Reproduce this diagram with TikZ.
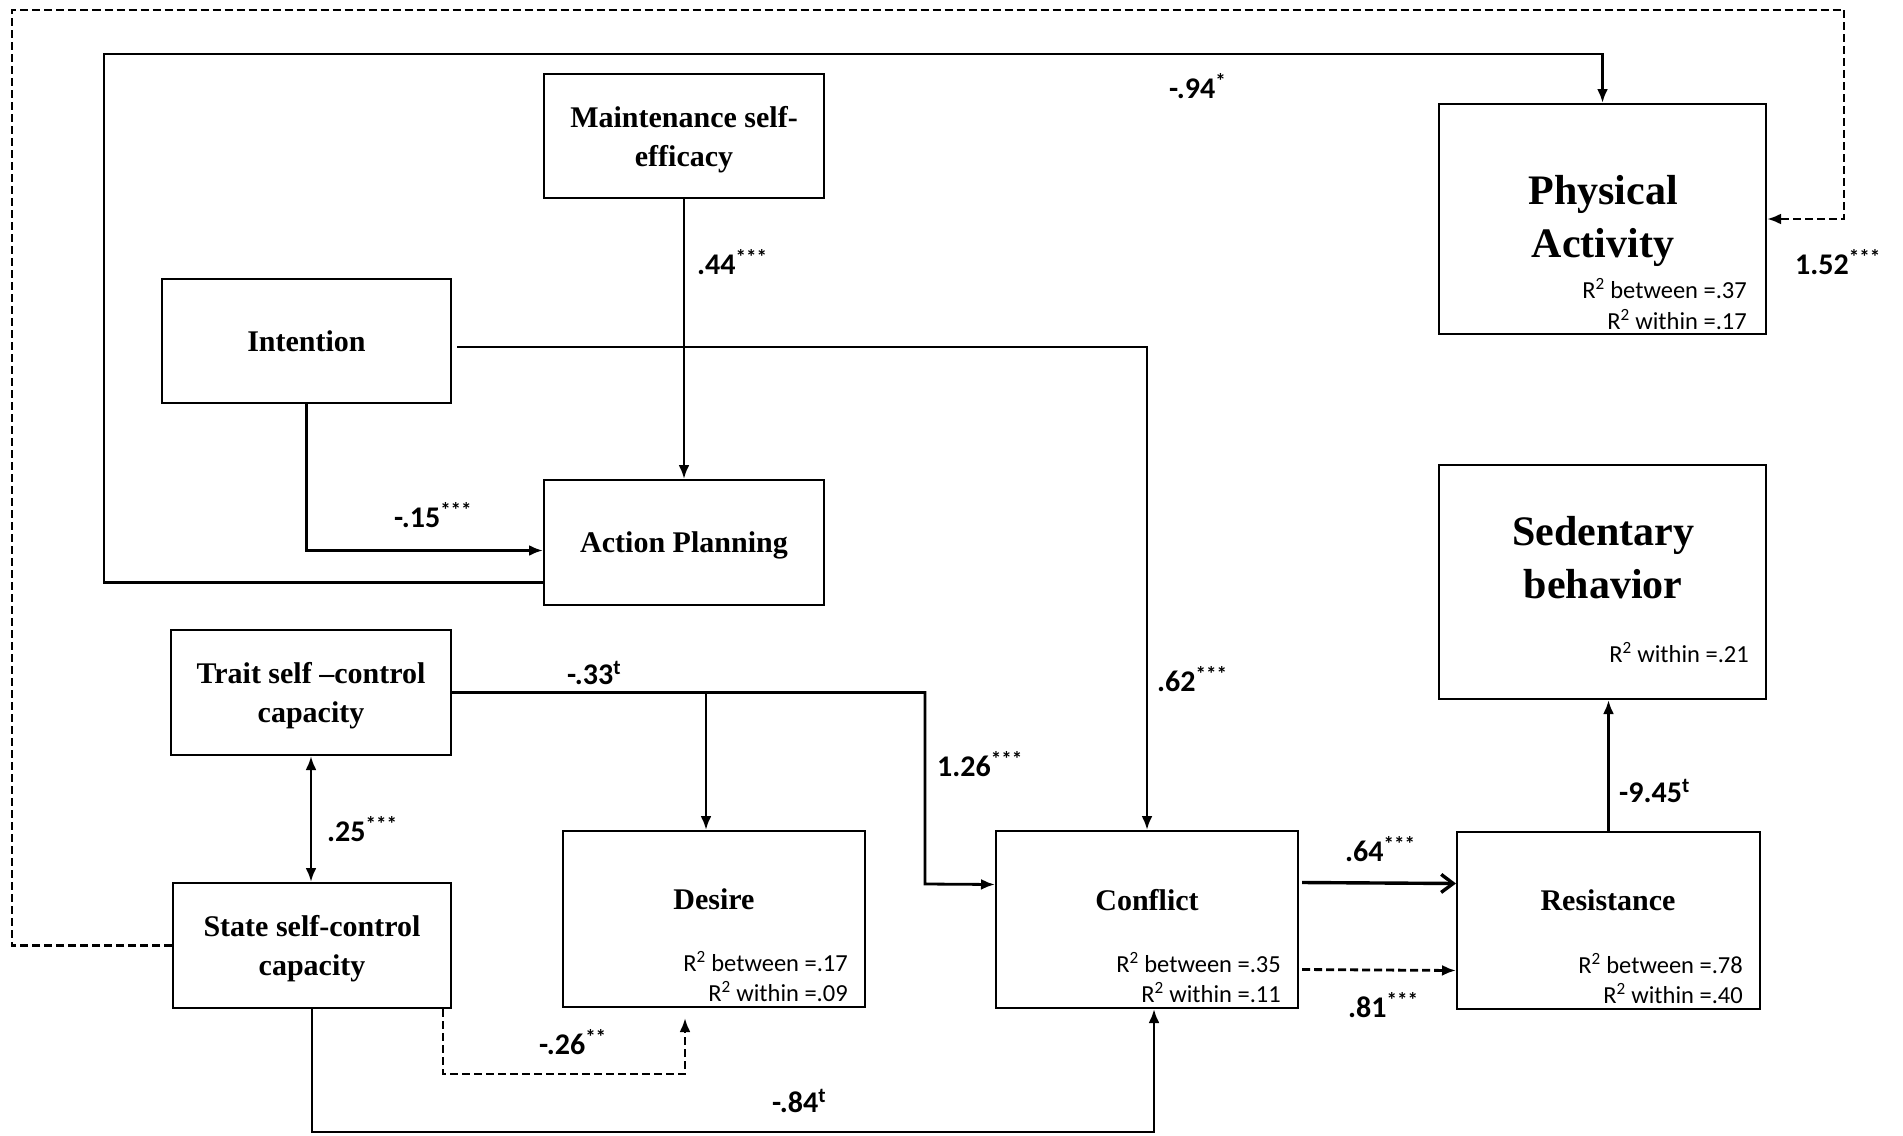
\documentclass[tikz,border=0pt]{standalone}
\usepackage{fontspec}
\setmainfont{Liberation Serif}
\newfontfamily\numfont{Carlito}
\usetikzlibrary{arrows.meta}

\begin{document}
\begin{tikzpicture}[x=1pt, y=-1pt,
  box/.style={draw, line width=2pt, inner sep=0pt},
  ttl/.style={font=\fontsize{30}{39}\selectfont\bfseries, align=center, text depth=0pt},
  bigttl/.style={font=\fontsize{42}{53}\selectfont\bfseries, align=center, inner sep=0pt},
  coef/.style={font=\numfont\fontsize{30}{36}\selectfont\bfseries, anchor=base west, inner sep=0pt},
  rsq/.style={font=\numfont\fontsize{24.5}{29}\selectfont, anchor=east, inner sep=0pt},
  conn/.style={line width=2.8pt, -{Latex[length=14pt,width=11pt]}},
  dconn/.style={conn, dash pattern=on 8pt off 4pt},
  ]
  \path[use as bounding box, fill=white] (0,0) rectangle (1903,1135);

  %% ── Boxes ──────────────────────────────────────────────────
  \node[box, ttl, minimum width=280pt, minimum height=124pt] (mse) at (684,136) {Maintenance self-\\efficacy};
  \node[box, ttl, minimum width=289pt, minimum height=124pt] (int) at (306.5,341) {Intention};
  \node[box, ttl, minimum width=280pt, minimum height=125pt] (ap)  at (684,542.5) {Action Planning};
  \node[box, ttl, minimum width=280pt, minimum height=125pt] (tsc) at (311,692.5) {Trait self –control\\capacity};
  \node[box, ttl, minimum width=278pt, minimum height=125pt] (ssc) at (312,945.5) {State self-control\\capacity};

  \node[box, minimum width=327pt, minimum height=230pt] (pa)  at (1602.5,219) {};
  \node[box, minimum width=327pt, minimum height=234pt] (sb)  at (1602.5,582) {};
  \node[box, minimum width=302pt, minimum height=176pt] (des) at (714,919) {};
  \node[box, minimum width=302pt, minimum height=177pt] (con) at (1147,919.5) {};
  \node[box, minimum width=303pt, minimum height=177pt] (res) at (1608.5,920.5) {};

  %% titles and R2 lines of the outcome boxes
  \node[bigttl] (paT) at (1603,221) {Physical\\Activity};
  \node[rsq] (paB) at (1747,289) {R\textsuperscript{2} between =.37};
  \node[rsq] (paW) at (1747,320) {R\textsuperscript{2} within =.17};
  \node[bigttl] (sbT) at (1603,558) {Sedentary\\behavior};
  \node[rsq] (sbW) at (1749,653) {R\textsuperscript{2} within =.21};
  \node[ttl] (desT) at (714,899) {Desire};
  \node[rsq] (desB) at (848,962) {R\textsuperscript{2} between =.17};
  \node[rsq] (desW) at (848,992) {R\textsuperscript{2} within =.09};
  \node[ttl] (conT) at (1147,900) {Conflict};
  \node[rsq] (conB) at (1281,963) {R\textsuperscript{2} between =.35};
  \node[rsq] (conW) at (1281,993) {R\textsuperscript{2} within =.11};
  \node[ttl] (resT) at (1608,900) {Resistance};
  \node[rsq] (resB) at (1743,964) {R\textsuperscript{2} between =.78};
  \node[rsq] (resW) at (1743,994) {R\textsuperscript{2} within =.40};

  %% ── Paths ──────────────────────────────────────────────────
  \coordinate (tb) at (706,693);
  \coordinate (cb) at (1154,1132);
  \draw[conn] ([yshift=-40pt]ap.west) -| (104,54) -| (pa.north);
  \draw[dconn] (ssc.west) -| (12,10) -| (1844,219) -- (pa.east);
  \draw[conn] (mse.south) -- (ap.north);
  \draw[conn] (int.south) |- ([yshift=-8pt]ap.west);
  \draw[conn] ([xshift=5pt,yshift=-6pt]int.east) -| (con.north);
  \draw[conn] (tsc.east) -| (925,884) -- ([yshift=35pt]con.west);
  \draw[conn] (tb) -- (tb |- des.north);
  \draw[line width=2.8pt, {Latex[length=14pt,width=11pt]}-{Latex[length=14pt,width=11pt]}]
    (tsc.south) -- (tsc.south |- ssc.north);
  \draw[dconn] ([xshift=-9pt]ssc.south east) |- (685,1074) -- ([xshift=-29pt,yshift=-10pt]des.south);
  \draw[conn] (ssc.south) |- (cb) -- (cb |- con.south);
  \draw[line width=3.4pt, -{Straight Barb[length=12pt,width=18pt]}]
    ([xshift=3pt,yshift=37pt]con.east) -- ([yshift=37pt]res.west);
  \draw[dconn] ([xshift=3pt,yshift=-50pt]con.east) -- ([yshift=-50pt]res.west);
  \draw[conn] (res.north) -- (res.north |- sb.south);

  %% ── Coefficients ───────────────────────────────────────────
  \node[coef] (c94)  at (1169,98)   {-.94\textsuperscript{*}};
  \node[coef] (c152) at (1795,274)  {1.52\textsuperscript{***}};
  \node[coef] (c44)  at (697,274)   {.44\textsuperscript{***}};
  \node[coef] (c15)  at (394,527)   {-.15\textsuperscript{***}};
  \node[coef] (c33)  at (567,684)   {-.33\textsuperscript{t}};
  \node[coef] (c62)  at (1157,691)  {.62\textsuperscript{***}};
  \node[coef] (c126) at (937,776)   {1.26\textsuperscript{***}};
  \node[coef] (c25)  at (327,841)   {.25\textsuperscript{***}};
  \node[coef] (c945) at (1619,802)  {-9.45\textsuperscript{t}};
  \node[coef] (c64)  at (1345,861)  {.64\textsuperscript{***}};
  \node[coef] (c81)  at (1348,1017) {.81\textsuperscript{***}};
  \node[coef] (c26)  at (539,1054)  {-.26\textsuperscript{**}};
  \node[coef] (c84)  at (772,1112)  {-.84\textsuperscript{t}};
\end{tikzpicture}
\end{document}
